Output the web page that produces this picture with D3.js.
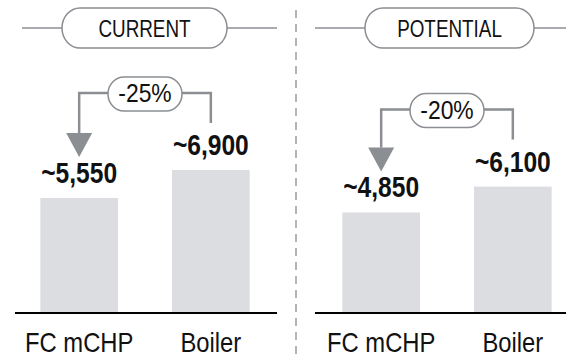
<!DOCTYPE html>
<html>
<head>
<meta charset="utf-8">
<script src="https://cdn.jsdelivr.net/npm/d3@7"></script>
<style>
  body { margin: 0; background: #fff; }
  svg { display: block; font-family: "Liberation Sans", Arial, sans-serif; }
</style>
</head>
<body>
<div id="chart"></div>
<script>
// data
const categories = ["FC mCHP", "Boiler"];
const panelNames = ["CURRENT", "POTENTIAL"];
const currentValues = [5550, 6900];
const potentialValues = [4850, 6100];
const changeLabels = ["-25%", "-20%"];

const width = 566, height = 358;
const grey = "#8b8e92", barFill = "#dcdde0";

const svg = d3.select("#chart").append("svg")
    .attr("width", width)
    .attr("height", height);

const y = d3.scaleLinear().domain([0, 6900]).range([313, 170]);
const fmt = v => "~" + d3.format(",")(v);

// narrow-looking text: squeeze horizontally
function label(g, x, yy, txt, size, sx, weight) {
    return g.append("text")
        .attr("transform", "translate(" + x + "," + yy + ") scale(" + sx + ",1)")
        .attr("text-anchor", "middle")
        .attr("font-size", size)
        .attr("font-weight", weight || "normal")
        .attr("fill", "#111")
        .text(txt);
}

const panels = [
    { name: panelNames[0], values: currentValues, change: changeLabels[0], range: [14, 276], line: [15, 277], head: [22, 277], pill: [62, 227] },
    { name: panelNames[1], values: potentialValues, change: changeLabels[1], range: [316, 578], line: [315, 566], head: [315, 566], pill: [365, 534] }
];

// dashed divider
svg.append("line")
    .attr("x1", 296).attr("x2", 296)
    .attr("y1", 10).attr("y2", height)
    .attr("stroke", "#9c9c9c")
    .attr("stroke-width", 1.5)
    .attr("stroke-dasharray", "8,6");

panels.forEach(function(p) {
    const g = svg.append("g");
    const x = d3.scaleBand().domain(categories).range(p.range).paddingInner(0.41).paddingOuter(0.2);
    const cx = c => x(c) + x.bandwidth() / 2;

    // header pill
    g.append("line")
        .attr("x1", p.head[0]).attr("x2", p.head[1])
        .attr("y1", 28).attr("y2", 28)
        .attr("stroke", grey).attr("stroke-width", 1.5);
    g.append("rect")
        .attr("x", p.pill[0]).attr("y", 8)
        .attr("width", p.pill[1] - p.pill[0]).attr("height", 40)
        .attr("rx", 18).attr("ry", 20)
        .attr("fill", "#fff").attr("stroke", grey).attr("stroke-width", 1.5);
    label(g, (p.pill[0] + p.pill[1]) / 2, 37, p.name, 23, 0.82);

    // bars
    g.selectAll(".bar")
        .data(p.values)
        .enter().append("rect")
        .attr("class", "bar")
        .attr("x", (d, i) => x(categories[i]))
        .attr("width", x.bandwidth())
        .attr("y", d => y(d))
        .attr("height", d => y(0) - y(d))
        .attr("fill", barFill);

    // value labels
    p.values.forEach(function(v, i) {
        label(g, cx(categories[i]), y(v) - 15, fmt(v), 30, 0.82, "bold");
    });

    // baseline
    g.append("line")
        .attr("x1", p.line[0]).attr("x2", p.line[1])
        .attr("y1", y(0)).attr("y2", y(0))
        .attr("stroke", "#000").attr("stroke-width", 2);

    // category labels
    categories.forEach(function(c) {
        label(g, cx(c), 352, c, 28, 0.85);
    });

    // bracket with arrow
    const x1 = cx(categories[0]), x2 = cx(categories[1]);
    const by = y(p.values[1]) - 77;
    const tip = y(p.values[0]) - 41;
    const top = tip - 24;
    g.append("path")
        .attr("d", "M" + x1 + "," + top + "V" + by + "H" + x2 + "V" + (y(p.values[1]) - 47))
        .attr("fill", "none").attr("stroke", grey).attr("stroke-width", 2.5);
    g.append("path")
        .attr("d", "M" + (x1 - 13) + "," + top + "L" + (x1 + 13) + "," + top + "L" + x1 + "," + tip + "Z")
        .attr("fill", grey);
    const mid = (x1 + x2) / 2;
    g.append("rect")
        .attr("x", mid - 37).attr("y", by - 16)
        .attr("width", 74).attr("height", 34)
        .attr("rx", 16).attr("ry", 17)
        .attr("fill", "#fff").attr("stroke", grey).attr("stroke-width", 1.5);
    label(g, mid, by + 9, p.change, 26, 0.88);
});
</script>
</body>
</html>
